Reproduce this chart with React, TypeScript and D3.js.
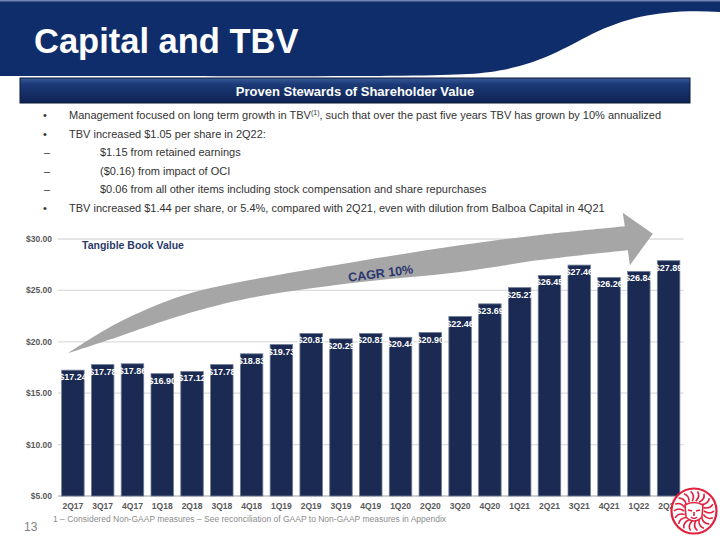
import React from "react";
import * as d3 from "d3";

const categories = [
  "2Q17", "3Q17", "4Q17", "1Q18", "2Q18", "3Q18", "4Q18", "1Q19", "2Q19", "3Q19", "4Q19",
  "1Q20", "2Q20", "3Q20", "4Q20", "1Q21", "2Q21", "3Q21", "4Q21", "1Q22", "2Q22",
];
const tbvValues = [
  17.24, 17.78, 17.86, 16.9, 17.12, 17.78, 18.83, 19.73, 20.81, 20.29, 20.81,
  20.44, 20.9, 22.46, 23.69, 25.27, 26.45, 27.46, 26.26, 26.84, 27.89,
];
const yTicks = [5, 10, 15, 20, 25, 30];

// CAGR arrow outline, in (category index, value) units
const arrowUpper: [number, number][] = [
  [0.34, 18.9], [1.98, 21.8], [4.19, 24.5], [6.44, 26.0], [9.8, 27.7], [13.49, 29.4], [16.17, 30.4], [19.03, 31.25],
];
const arrowLower: [number, number][] = [
  [0.34, 18.9], [1.98, 20.45], [4.19, 22.6], [6.44, 24.25], [9.8, 25.7], [13.49, 26.8], [16.17, 27.95], [19.13, 28.9],
];
const arrowHead: [number, number][] = [[18.96, 32.55], [19.97, 30.5], [19.2, 27.45]];

const bullets = [
  { level: 0, text: "Management focused on long term growth in TBV", sup: "(1)", after: ", such that over the past five years TBV has grown by 10% annualized" },
  { level: 0, text: "TBV increased $1.05 per share in 2Q22:" },
  { level: 1, text: "$1.15 from retained earnings" },
  { level: 1, text: "($0.16) from impact of OCI" },
  { level: 1, text: "$0.06 from all other items including stock compensation and share repurchases" },
  { level: 0, text: "TBV increased $1.44 per share, or 5.4%, compared with 2Q21, even with dilution from Balboa Capital in 4Q21" },
];

const FONT = "'Liberation Sans', Arial, sans-serif";
const NAVY = "#0f2d6b";
const BAR = "#1a2a52";

export default function App() {
  const width = 720;
  const height = 540;

  const x = d3.scaleBand<string>().domain(categories).range([58, 683.5]).paddingInner(0.245).paddingOuter(0.1225);
  const y = d3.scaleLinear().domain([5, 30]).range([496, 239]);
  const u = d3.scaleLinear().domain([0, categories.length]).range([58, 683.5]);

  const curve = d3.line<[number, number]>()
    .x((d) => u(d[0]))
    .y((d) => y(d[1]))
    .curve(d3.curveCatmullRom);
  const upperPath = curve(arrowUpper) || "";
  const lowerPath = (curve([...arrowLower].reverse()) || "").replace(/^M/, "L");
  const headPath = arrowHead.map((p) => `L${u(p[0])},${y(p[1])}`).join("");
  const arrowPath = upperPath + headPath + lowerPath + "Z";

  // lion mark strokes
  const maneAngles = d3.range(-170, 171, 20).map((a) => (a * Math.PI) / 180);

  return (
    <svg width={width} height={height} style={{ position: "absolute", left: 0, top: 0, background: "#fff" }} fontFamily={FONT}>
      <defs>
        <linearGradient id="subbar" x1="0" y1="0" x2="0" y2="1">
          <stop offset="0" stopColor="#3a5a98" />
          <stop offset="0.25" stopColor="#1c3a78" />
          <stop offset="1" stopColor="#0d2352" />
        </linearGradient>
      </defs>

      {/* header band with wave */}
      <path d="M0,0 H720 V12 C665,9 630,16 592,34 C555,53 530,70 468,74 C420,77 300,76 0,76 Z" fill={NAVY} />
      <rect x={0} y={0} width={720} height={1.5} fill="#7083b5" />
      <text x={34} y={53} fill="#fff" fontSize={34.5} fontWeight="bold">Capital and TBV</text>

      {/* sub header bar */}
      <rect x={20} y={78} width={670} height={25} fill="url(#subbar)" stroke="#0a1a3a" strokeWidth={1} />
      <text x={355} y={96} fill="#fff" fontSize={13} fontWeight="bold" textAnchor="middle">Proven Stewards of Shareholder Value</text>

      {/* bullets */}
      {bullets.map((b, i) => {
        const by = 119 + i * 18.6;
        return (
          <g key={i} fill="#333333" fontSize={11}>
            <text x={b.level === 0 ? 43 : 44} y={by}>{b.level === 0 ? "•" : "–"}</text>
            <text x={b.level === 0 ? 69 : 100} y={by}>
              {b.text}
              {b.sup && <tspan fontSize={7} dy={-4}>{b.sup}</tspan>}
              {b.after && <tspan dy={4}>{b.after}</tspan>}
            </text>
          </g>
        );
      })}

      {/* gridlines and y axis labels */}
      {yTicks.map((t) => (
        <g key={t}>
          <line x1={58} x2={683.5} y1={y(t)} y2={y(t)} stroke={t === 5 ? "#bfbfbf" : "#dcdcdc"} strokeWidth={1.3} />
          <text x={52} y={y(t)} dy="0.35em" textAnchor="end" fontSize={8.5} fontWeight="bold" fill="#595959">
            {d3.format("$.2f")(t)}
          </text>
        </g>
      ))}

      <text x={82} y={249} fontSize={10.5} fontWeight="bold" fill="#2b3a6b">Tangible Book Value</text>

      {/* CAGR arrow */}
      <path d={arrowPath} fill="#a6a6a6" />
      <text
        transform={`translate(${u(10.85)},${y(26.25)}) rotate(-7.5)`}
        textAnchor="middle"
        fontSize={12.5}
        fontWeight="bold"
        fill="#2b3670"
      >
        CAGR 10%
      </text>

      {/* bars */}
      {categories.map((c, i) => {
        const bx = x(c) as number;
        const top = y(tbvValues[i]);
        return (
          <g key={c}>
            <rect x={bx} y={top} width={x.bandwidth()} height={y(5) - top} fill={BAR} stroke="#6f7c96" strokeWidth={0.8} />
            <text x={bx + x.bandwidth() / 2} y={top + 10} textAnchor="middle" fontSize={9} fontWeight="bold" fill="#fff">
              {d3.format("$.2f")(tbvValues[i])}
            </text>
            <text x={bx + x.bandwidth() / 2} y={506} dy="0.35em" textAnchor="middle" fontSize={8.5} fontWeight="bold" fill="#595959">
              {c}
            </text>
          </g>
        );
      })}

      {/* footer */}
      <text x={53} y={522} fontSize={8.5} fill="#8c8c8c">
        1 – Considered Non-GAAP measures – See reconciliation of GAAP to Non-GAAP measures in Appendix
      </text>
      <text x={24} y={531} fontSize={12} fill="#7f7f7f">13</text>

      {/* lion mark */}
      <g transform="translate(694,511)" stroke="#e2203d" fill="none" strokeWidth={1.6}>
        <circle r={22.5} fill="#fff" strokeWidth={2.2} />
        {maneAngles.map((a, i) => (
          <path
            key={i}
            d={`M${Math.sin(a) * 10},${-Math.cos(a) * 10} Q${Math.sin(a + 0.25) * 16},${-Math.cos(a + 0.25) * 16} ${Math.sin(a) * 20},${-Math.cos(a) * 20}`}
          />
        ))}
        <path d="M-9,-6 Q0,-11 9,-6 L8,6 Q0,14 -8,6 Z" fill="#fff" />
        <path d="M-6,-1 L-2,0 M6,-1 L2,0 M-3,6 Q0,9 3,6 M0,1 L0,5" />
      </g>
    </svg>
  );
}
